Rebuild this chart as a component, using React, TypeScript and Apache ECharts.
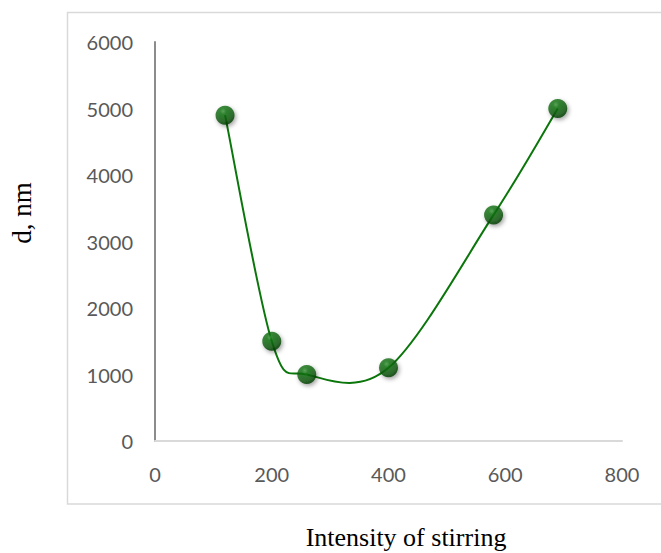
import React, { useEffect, useRef } from "react";
import * as echarts from "echarts";

const xValues = [120, 200, 260, 400, 580, 690];
const yValues = [4900, 1500, 1000, 1100, 3400, 5000];
const xTicks = [0, 200, 400, 600, 800];
const yTicks = [0, 1000, 2000, 3000, 4000, 5000, 6000];
const xTitle = "Intensity of stirring";
const yTitle = "d, nm";

const points = xValues.map((x, i) => [x, yValues[i]]);

export default function App() {
  const ref = useRef<HTMLDivElement>(null);
  useEffect(() => {
    if (!ref.current) return;
    const chart = echarts.init(ref.current, null, { renderer: "svg" });
    const tickFont = { fontFamily: "Lato, 'Open Sans', sans-serif", fontSize: 20, color: "#595959" };
    const lineColor = "#0b760b";

    const renderSegment = (params: any, api: any) => {
      const i = params.dataIndex;
      const n = points.length;
      if (i >= n - 1) return null;
      const p = (k: number) => api.coord(points[Math.max(0, Math.min(n - 1, k))]);
      const p0 = p(i - 1);
      const p1 = p(i);
      const p2 = p(i + 1);
      const p3 = p(i + 2);
      const cp1x = p1[0] + (p2[0] - p0[0]) / 6;
      const cp1y = p1[1] + (p2[1] - p0[1]) / 6;
      const cp2x = p2[0] - (p3[0] - p1[0]) / 6;
      const cp2y = p2[1] - (p3[1] - p1[1]) / 6;
      return {
        type: "bezierCurve",
        shape: { x1: p1[0], y1: p1[1], x2: p2[0], y2: p2[1], cpx1: cp1x, cpy1: cp1y, cpx2: cp2x, cpy2: cp2y },
        style: { stroke: lineColor, lineWidth: 2, fill: null },
      };
    };

    chart.setOption({
      animation: false,
      backgroundColor: "#ffffff",
      grid: { left: 155, top: 42, right: 39, bottom: 112 },
      graphic: [
        {
          type: "rect",
          shape: { x: 67.5, y: 12.5, width: 620, height: 491.5 },
          style: { fill: "none", stroke: "#d9d9d9", lineWidth: 1.5 },
          z: -1,
        },
        {
          type: "text",
          x: 406,
          y: 537,
          style: {
            text: xTitle,
            font: "26px 'Liberation Serif', 'Times New Roman', serif",
            fill: "#000",
            align: "center",
            verticalAlign: "middle",
          },
        },
        {
          type: "text",
          x: 22,
          y: 213,
          rotation: Math.PI / 2,
          style: {
            text: yTitle,
            font: "27px 'Liberation Serif', 'Times New Roman', serif",
            fill: "#000",
            align: "center",
            verticalAlign: "middle",
          },
        },
      ],
      xAxis: {
        type: "value",
        min: xTicks[0],
        max: xTicks[xTicks.length - 1],
        interval: 200,
        axisLine: { show: true, lineStyle: { color: "#d9d9d9", width: 2 } },
        axisTick: { show: false },
        splitLine: { show: false },
        axisLabel: { ...tickFont, margin: 23, formatter: (v: number) => String(v) },
      },
      yAxis: {
        type: "value",
        min: yTicks[0],
        max: yTicks[yTicks.length - 1],
        interval: 1000,
        axisLine: { show: true, lineStyle: { color: "#8c8c8c", width: 2 } },
        axisTick: { show: false },
        splitLine: { show: false },
        axisLabel: { ...tickFont, margin: 22, formatter: (v: number) => String(v) },
      },
      series: [
        {
          type: "custom",
          data: points,
          encode: { x: 0, y: 1 },
          renderItem: renderSegment,
          z: 2,
          silent: true,
        },
        {
          type: "scatter",
          data: points,
          symbol: "circle",
          symbolSize: 19,
          z: 3,
          itemStyle: {
            color: new echarts.graphic.RadialGradient(0.4, 0.3, 0.72, [
              { offset: 0, color: "#3f9c3f" },
              { offset: 0.22, color: "#137313" },
              { offset: 0.7, color: "#0a5a0a" },
              { offset: 1, color: "#053605" },
            ]),
            shadowBlur: 4,
            shadowOffsetX: 1.5,
            shadowOffsetY: 2,
            shadowColor: "rgba(0,0,0,0.45)",
          },
        },
      ],
    });
    return () => chart.dispose();
  }, []);
  return <div ref={ref} style={{ width: 661, height: 553, position: "absolute", left: 0, top: 0 }} />;
}
